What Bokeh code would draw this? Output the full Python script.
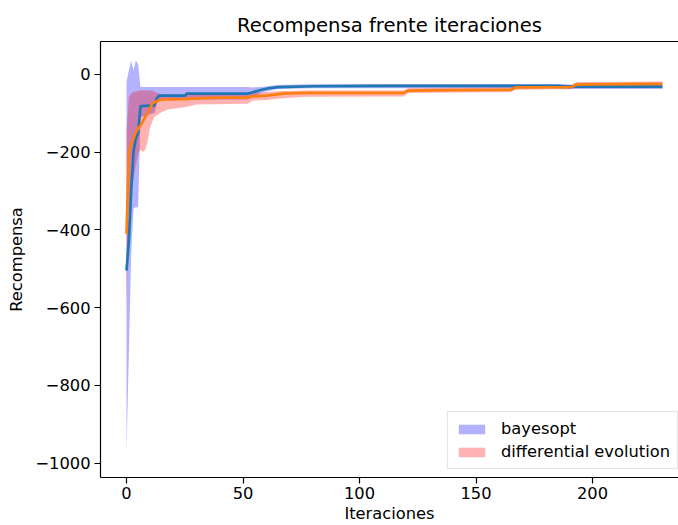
from bokeh.plotting import figure
from bokeh.models import Range1d, FixedTicker, LinearAxis, Legend, LegendItem
from bokeh.embed import file_html
from bokeh.resources import INLINE

# ---- data ----
# bayesopt mean curve
bo_x = [0, 1, 2, 3, 4, 5, 6, 12, 13, 14, 25, 26, 52, 54, 56, 58, 61, 65, 80, 110, 185, 190, 230]
bo_y = [-505, -430, -300, -200, -165, -150, -82, -80, -62, -55, -55, -50, -50, -47, -43, -40, -36, -33, -31, -30, -30, -32, -32]
# bayesopt band
bo_bx = [0, 1, 2, 3, 4, 5, 6, 12, 13, 14, 52, 54, 58, 65, 80, 185, 190, 230]
bo_lo = [-975, -720, -460, -345, -342, -342, -110, -100, -75, -65, -65, -60, -47, -38, -36, -36, -38, -38]
bo_hi = [-20, 10, 35, 10, 35, 25, -33, -33, -33, -33, -33, -34, -33, -28, -26, -25, -27, -27]

# differential evolution mean curve
de_x = [0, 1, 2, 3, 4, 5, 6, 7, 8, 9, 10, 11, 12, 14, 16, 25, 30, 40, 52, 54, 60, 67, 77, 119, 121, 140, 165, 167, 191, 193, 199, 230]
de_y = [-410, -205, -178, -165, -149, -140, -132, -121, -110, -100, -88, -76, -72, -67, -65, -64, -62, -60, -60, -57, -55, -50, -48, -48, -42, -41, -40, -34, -33, -27, -26, -25]
# differential evolution band
de_bx = [0, 1, 2, 3, 4, 5, 6, 7, 8, 9, 10, 11, 12, 15, 18, 25, 30, 52, 54, 60, 67, 77, 119, 121, 140, 165, 167, 191, 193, 230]
de_lo = [-610, -330, -300, -270, -235, -205, -195, -200, -195, -175, -140, -123, -110, -98, -90, -85, -78, -76, -68, -66, -62, -58, -57, -48, -47, -46, -40, -38, -32, -31]
de_hi = [-150, -60, -50, -45, -45, -43, -42, -42, -42, -42, -42, -42, -45, -52, -53, -53, -52, -52, -48, -46, -43, -42, -42, -36, -35, -34, -28, -27, -20, -19]

x_ticks = [0, 50, 100, 150, 200]
y_ticks = [-1000, -800, -600, -400, -200, 0]
y_tick_labels = ["\u22121000", "\u2212800", "\u2212600", "\u2212400", "\u2212200", "0"]

FONT = "DejaVu Sans"
FS = "16.3px"

p = figure(width=678, height=525, output_backend="svg", toolbar_location=None,
           x_range=Range1d(-11.16, 236.9), y_range=Range1d(-1036.8, 84.1),
           min_border_left=100, min_border_right=0, min_border_top=41, min_border_bottom=48,
           title="Recompensa frente iteraciones")
p.outline_line_color = None
p.grid.visible = False
p.background_fill_color = "white"
p.border_fill_color = "white"

p.title.text_font = FONT
p.title.text_font_size = "19.6px"
p.title.text_font_style = "normal"
p.title.align = "center"
p.title.offset = 3
p.title.standoff = 10
p.title.text_color = "black"

r_bo = p.varea(x=bo_bx, y1=bo_lo, y2=bo_hi, fill_color="blue", fill_alpha=0.3)
r_de = p.varea(x=de_bx, y1=de_lo, y2=de_hi, fill_color="red", fill_alpha=0.3)
p.line(bo_x, bo_y, line_color="#1f77b4", line_width=2.7)
p.line(de_x, de_y, line_color="#ff7f0e", line_width=2.7)

for ax in (p.xaxis[0], p.yaxis[0]):
    ax.axis_line_color = "black"
    ax.axis_line_width = 1.2
    ax.major_tick_in = 0
    ax.major_tick_out = 6
    ax.major_tick_line_width = 1.2
    ax.major_tick_line_color = "black"
    ax.minor_tick_line_color = None
    ax.major_label_text_font = FONT
    ax.major_label_text_font_size = FS
    ax.major_label_text_color = "black"
    ax.axis_label_text_font = FONT
    ax.axis_label_text_font_size = FS
    ax.axis_label_text_font_style = "normal"
    ax.axis_label_text_color = "black"

p.xaxis[0].ticker = FixedTicker(ticks=x_ticks)
p.xaxis[0].axis_label = "Iteraciones"
p.xaxis[0].major_label_standoff = 3
p.xaxis[0].axis_label_standoff = 2
p.yaxis[0].ticker = FixedTicker(ticks=y_ticks)
p.yaxis[0].major_label_overrides = dict(zip(y_ticks, y_tick_labels))
p.yaxis[0].axis_label = "Recompensa"
p.yaxis[0].major_label_standoff = 4
p.yaxis[0].axis_label_standoff = 6

top = LinearAxis(ticker=FixedTicker(ticks=[]), axis_line_color="black", axis_line_width=1.2,
                 major_tick_line_color=None, minor_tick_line_color=None,
                 major_label_text_font_size="0px")
p.add_layout(top, "above")

legend = Legend(items=[LegendItem(label="bayesopt", renderers=[r_bo]),
                       LegendItem(label="differential evolution", renderers=[r_de])],
                location=(347, 8))
legend.border_line_color = "#cccccc"
legend.border_line_width = 1
legend.background_fill_alpha = 0.8
legend.label_text_font = FONT
legend.label_text_font_size = FS
legend.label_text_color = "black"
legend.glyph_width = 33
legend.glyph_height = 12
legend.label_standoff = 13
legend.label_height = 19
legend.padding = 7
legend.spacing = 4
legend.margin = 0
p.add_layout(legend)

open("out.html", "w").write(file_html(p, INLINE))
